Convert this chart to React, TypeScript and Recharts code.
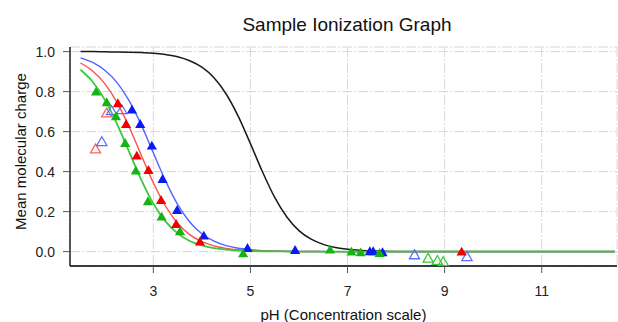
import React from 'react';
import { ComposedChart, Line, Scatter, XAxis, YAxis, ZAxis, CartesianGrid } from 'recharts';

// pH grid for fitted curves
const phGrid = [1.5, 1.75, 2.0, 2.25, 2.5, 2.75, 3.0, 3.25, 3.5, 3.75, 4.0, 4.25, 4.5, 4.75, 5.0, 5.25, 5.5, 5.75, 6.0, 6.25, 6.5, 6.75, 7.0, 7.25, 7.5, 7.75, 8.0, 8.5, 9, 10, 11, 12, 12.5];
const blackCurve = [1.0, 1.0, 0.999, 0.998, 0.997, 0.995, 0.992, 0.985, 0.974, 0.954, 0.922, 0.869, 0.788, 0.676, 0.54, 0.398, 0.271, 0.173, 0.105, 0.062, 0.036, 0.02, 0.012, 0.007, 0.004, 0.002, 0.001, 0.0004, 0, 0, 0, 0, 0];
const blueCurve = [0.969, 0.946, 0.907, 0.846, 0.755, 0.635, 0.494, 0.355, 0.236, 0.148, 0.089, 0.052, 0.03, 0.017, 0.01, 0.005, 0.003, 0.002, 0.001, 0.0006, 0.0003, 0, 0, 0, 0, 0, 0, 0, 0, 0, 0, 0, 0];
const redCurve = [0.943, 0.903, 0.84, 0.747, 0.624, 0.483, 0.344, 0.228, 0.142, 0.085, 0.05, 0.029, 0.016, 0.009, 0.005, 0.003, 0.002, 0.001, 0.0005, 0.0003, 0, 0, 0, 0, 0, 0, 0, 0, 0, 0, 0, 0, 0];
const greenCurve = [0.909, 0.849, 0.76, 0.64, 0.5, 0.36, 0.24, 0.151, 0.091, 0.053, 0.031, 0.0175, 0.01, 0.0056, 0.0032, 0.0018, 0.001, 0.0006, 0.0003, 0, 0, 0, 0, 0, 0, 0, 0, 0, 0, 0, 0, 0, 0];

// measured points (filled triangles)
const blueFilledPh = [2.56, 2.73, 2.97, 3.19, 3.49, 4.04, 4.94, 5.92, 7.46, 7.53, 7.72];
const blueFilledV = [0.705, 0.633, 0.525, 0.358, 0.203, 0.075, 0.013, 0.003, -0.003, -0.003, -0.008];
const redFilledPh = [2.27, 2.44, 2.66, 2.9, 3.16, 3.47, 3.96, 9.35];
const redFilledV = [0.737, 0.633, 0.475, 0.403, 0.253, 0.133, 0.045, -0.005];
const greenFilledPh = [1.82, 2.04, 2.23, 2.42, 2.64, 2.89, 3.17, 3.55, 4.85, 6.64, 7.08, 7.27, 7.66];
const greenFilledV = [0.795, 0.742, 0.672, 0.538, 0.4, 0.247, 0.17, 0.097, -0.014, 0.005, -0.005, -0.009, -0.012];

// excluded points (hollow triangles)
const blueHollowPh = [1.94, 2.14, 2.35, 8.38, 9.46];
const blueHollowV = [0.545, 0.7, 0.705, -0.021, -0.03];
const redHollowPh = [1.81, 2.04];
const redHollowV = [0.508, 0.688];
const greenHollowPh = [8.66, 8.85, 8.97];
const greenHollowV = [-0.038, -0.049, -0.055];

const xTicks = [3, 5, 7, 9, 11];
const yTicks = [0, 0.2, 0.4, 0.6, 0.8, 1.0];

const curveData = phGrid.map((ph, i) => ({
  ph,
  black: blackCurve[i],
  blue: blueCurve[i],
  red: redCurve[i],
  green: greenCurve[i],
}));

const pts = (xs: number[], ys: number[]) => xs.map((ph, i) => ({ ph, v: ys[i] }));

const FONT = '"Liberation Sans", Arial, Helvetica, sans-serif';

export default function App() {
  return (
    <div style={{ position: 'absolute', left: 0, top: 0, width: 618, height: 322, background: '#fff' }}>
      <ComposedChart
        width={618}
        height={322}
        data={curveData}
        margin={{ top: 47, right: 1, bottom: 0, left: 0 }}
      >
        <CartesianGrid stroke="#d8d8d8" strokeDasharray="10 2 2 2" />
        <XAxis
          dataKey="ph"
          type="number"
          domain={[1.284, 12.55]}
          ticks={xTicks}
          allowDataOverflow
          height={56}
          tickSize={7}
          tickMargin={13}
          axisLine={{ stroke: '#000', strokeWidth: 1.3 }}
          tickLine={{ stroke: '#555' }}
          tick={{ fill: '#222', fontSize: 14, fontFamily: FONT }}
        />
        <YAxis
          type="number"
          domain={[-0.072, 1.023]}
          ticks={yTicks}
          allowDataOverflow
          width={70}
          tickSize={7}
          tickMargin={8}
          tickFormatter={(v: number) => v.toFixed(1)}
          axisLine={{ stroke: '#000', strokeWidth: 1.3 }}
          tickLine={{ stroke: '#555' }}
          tick={{ fill: '#222', fontSize: 14, fontFamily: FONT }}
        />
        <ZAxis range={[45, 45]} />
        <Line dataKey="black" type="monotone" stroke="#1a1a1a" strokeWidth={1.5} dot={false} isAnimationActive={false} />
        <Line dataKey="blue" type="monotone" stroke="#4f63ff" strokeWidth={1.4} dot={false} isAnimationActive={false} />
        <Line dataKey="red" type="monotone" stroke="#ff4d4d" strokeWidth={1.4} dot={false} isAnimationActive={false} />
        <Line dataKey="green" type="monotone" stroke="#3cc83c" strokeWidth={1.8} dot={false} isAnimationActive={false} />
        <Scatter data={pts(redHollowPh, redHollowV)} dataKey="v" shape="triangle" fill="none" stroke="#ff6262" strokeWidth={1.3} isAnimationActive={false} />
        <Scatter data={pts(blueHollowPh, blueHollowV)} dataKey="v" shape="triangle" fill="none" stroke="#5a6cff" strokeWidth={1.3} isAnimationActive={false} />
        <Scatter data={pts(greenHollowPh, greenHollowV)} dataKey="v" shape="triangle" fill="none" stroke="#3cc83c" strokeWidth={1.3} isAnimationActive={false} />
        <Scatter data={pts(blueFilledPh, blueFilledV)} dataKey="v" shape="triangle" fill="#0a1af2" isAnimationActive={false} />
        <Scatter data={pts(redFilledPh, redFilledV)} dataKey="v" shape="triangle" fill="#f20000" isAnimationActive={false} />
        <Scatter data={pts(greenFilledPh, greenFilledV)} dataKey="v" shape="triangle" fill="#14b414" isAnimationActive={false} />
      </ComposedChart>
      <svg width={618} height={322} style={{ position: 'absolute', left: 0, top: 0, pointerEvents: 'none' }}>
        <text x={347} y={30.5} textAnchor="middle" fontSize={19} fontFamily={FONT} fill="#111">Sample Ionization Graph</text>
        <text x={343.5} y={320} textAnchor="middle" fontSize={15} fontFamily={FONT} fill="#111">pH (Concentration scale)</text>
        <text x={26} y={151.5} textAnchor="middle" fontSize={15} fontFamily={FONT} fill="#111" transform="rotate(-90 26 151.5)">Mean molecular charge</text>
      </svg>
    </div>
  );
}
